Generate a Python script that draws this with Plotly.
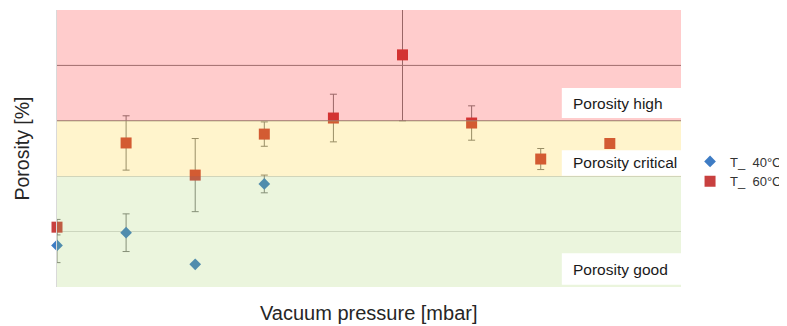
import plotly.graph_objects as go

# ---- data ----
pressure_idx = [0, 1, 2, 3, 4, 5, 6, 7, 8]
t40_x = [0, 1, 2, 3]
t40_y = [0.75, 0.98, 0.41, 1.86]
t40_err = [0.31, 0.34, 0.0, 0.16]

t60_x = pressure_idx
t60_y = [1.08, 2.60, 2.02, 2.76, 3.05, 4.19, 2.96, 2.31, 2.59]
t60_err = [0.14, 0.49, 0.66, 0.22, 0.43, 1.19, 0.31, 0.19, 0.0]

series_names = ["T_  40°C", "T_  60°C"]
band_labels = ["Porosity high", "Porosity critical", "Porosity good"]
band_limits = {"good": (0, 2), "critical": (2, 3), "high": (3, 5)}

Y_MAX = 5
X_MAX = 9.03

FONT = "Liberation Sans, Arial, sans-serif"

fig = go.Figure()

fig.add_trace(go.Scatter(
    x=t40_x, y=t40_y, mode="markers", name=series_names[0],
    marker=dict(symbol="diamond", size=9, color="#3E7CC4"),
    error_y=dict(type="data", array=t40_err, visible=True, color="#808080",
                 thickness=1, width=3.5),
    cliponaxis=False,
))
fig.add_trace(go.Scatter(
    x=t60_x, y=t60_y, mode="markers", name=series_names[1],
    marker=dict(symbol="square", size=11, color="#C8403F"),
    error_y=dict(type="data", array=t60_err, visible=True, color="#808080",
                 thickness=1, width=3.5),
    cliponaxis=False,
))

shapes = []
# darker boundary lines (under the colour wash)
for yv in (3, 4):
    shapes.append(dict(type="line", xref="x", yref="y", x0=0, x1=X_MAX, y0=yv, y1=yv,
                       line=dict(color="#8c8c8c", width=1), layer="above"))
# translucent colour bands drawn over the data
band_fill = {"high": "rgba(255,0,0,0.2)", "critical": "rgba(255,200,0,0.2)",
             "good": "rgba(155,205,85,0.2)"}
for key, (y0, y1) in band_limits.items():
    shapes.append(dict(type="rect", xref="x", yref="y", x0=0, x1=X_MAX, y0=y0, y1=y1,
                       fillcolor=band_fill[key], line=dict(width=0), layer="above"))
# white label boxes
label_boxes = [(3.05, 3.59), (2.01, 2.47), (0.04, 0.61)]
for (y0, y1) in label_boxes:
    shapes.append(dict(type="rect", xref="paper", yref="y", x0=0.809, x1=1.0, y0=y0, y1=y1,
                       fillcolor="white", line=dict(width=0), layer="above"))

annotations = []
for text, (y0, y1) in zip(band_labels, label_boxes):
    annotations.append(dict(text=text, xref="paper", yref="y", x=0.8237, y=(y0 + y1) / 2,
                            xanchor="left", yanchor="middle", showarrow=False,
                            font=dict(family=FONT, size=15.5, color="#1a1a1a")))
annotations.append(dict(text="Vacuum pressure [mbar]", xref="paper", yref="paper",
                        x=0.5, y=-26 / 277, xanchor="center", yanchor="middle",
                        showarrow=False, font=dict(family=FONT, size=20, color="#262626")))
annotations.append(dict(text="Porosity [%]", xref="paper", yref="paper",
                        x=-36 / 624, y=0.5, xanchor="center", yanchor="middle",
                        textangle=-90, showarrow=False,
                        font=dict(family=FONT, size=19.5, color="#262626")))

# page body has an 8px margin: shrink the figure so the plot lands where the reference has it
fig.update_layout(
    width=779, height=318,
    margin=dict(l=49, r=106, t=2, b=39, autoexpand=False),
    paper_bgcolor="white", plot_bgcolor="white",
    shapes=shapes, annotations=annotations,
    showlegend=True,
    legend=dict(x=1.0145, y=0.417, xanchor="left", yanchor="middle",
                font=dict(family=FONT, size=13, color="#333333"),
                bgcolor="rgba(0,0,0,0)", itemwidth=30, tracegroupgap=0),
    xaxis=dict(range=[0, X_MAX], showgrid=False, zeroline=False, showticklabels=False,
               ticks="", showline=False),
    yaxis=dict(range=[0, Y_MAX], dtick=1, showgrid=True, gridcolor="#d9d9d9", gridwidth=1,
               zeroline=False, showticklabels=False, ticks="",
               showline=True, linecolor="#d9d9d9", linewidth=1),
)

fig.write_html("out.html")
